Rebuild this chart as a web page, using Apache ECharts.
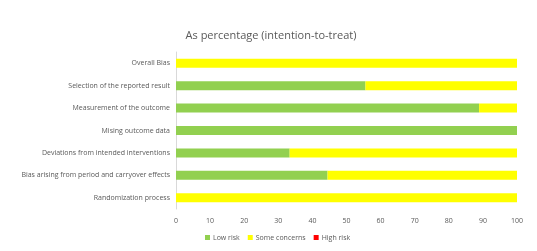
<!DOCTYPE html>
<html>
<head>
<meta charset="utf-8">
<script src="https://cdn.jsdelivr.net/npm/echarts@6/dist/echarts.min.js"></script>
<style>
  html, body { margin: 0; padding: 0; background: #fff; }
  #chart { width: 537px; height: 251px; }
</style>
</head>
<body>
<div id="chart"></div>
<script>
const categories = [
  'Randomization process',
  'Bias arising from period and carryover effects',
  'Deviations from intended interventions',
  'Mising outcome data',
  'Measurement of the outcome',
  'Selection of the reported result',
  'Overall Bias'
]
const lowRisk = [0, 44.44, 33.33, 100, 88.89, 55.56, 0]
const someConcerns = [100, 55.56, 66.67, 0, 11.11, 44.44, 100]
const highRisk = [0, 0, 0, 0, 0, 0, 0]

const chart = echarts.init(document.getElementById('chart'))
const font = '"Open Sans", "Liberation Sans", sans-serif'

chart.setOption({
  animation: false,
  textStyle: { fontFamily: font },
  title: {
    text: 'As percentage (intention-to-treat)',
    left: 266,
    textAlign: 'center',
    top: 25,
    textStyle: { fontSize: 11, fontWeight: 'normal', color: '#595959', fontFamily: font }
  },
  legend: {
    bottom: 5,
    left: 200,
    itemWidth: 5,
    itemHeight: 5,
    itemGap: 8,
    icon: 'rect',
    textStyle: { fontSize: 7, color: '#595959', padding: [0, 0, 0, -2] },
    data: ['Low risk', 'Some concerns', 'High risk']
  },
  grid: { left: 176, right: 20, top: 52, bottom: 42, containLabel: false },
  xAxis: {
    type: 'value',
    min: 0,
    max: 100,
    interval: 10,
    axisLine: { show: false },
    axisTick: { show: false },
    splitLine: { show: false },
    axisLabel: { fontSize: 7, color: '#595959', margin: 8 }
  },
  yAxis: {
    type: 'category',
    data: categories,
    axisLine: { show: true, lineStyle: { color: '#d9d9d9' } },
    axisTick: { show: false },
    axisLabel: { fontSize: 7, color: '#595959', margin: 6 }
  },
  series: [
    { name: 'Low risk', type: 'bar', stack: 'a', data: lowRisk, barWidth: '40%', itemStyle: { color: '#92d050' } },
    { name: 'Some concerns', type: 'bar', stack: 'a', data: someConcerns, itemStyle: { color: '#ffff00' } },
    { name: 'High risk', type: 'bar', stack: 'a', data: highRisk, itemStyle: { color: '#ff0000' } }
  ]
})
</script>
</body>
</html>
